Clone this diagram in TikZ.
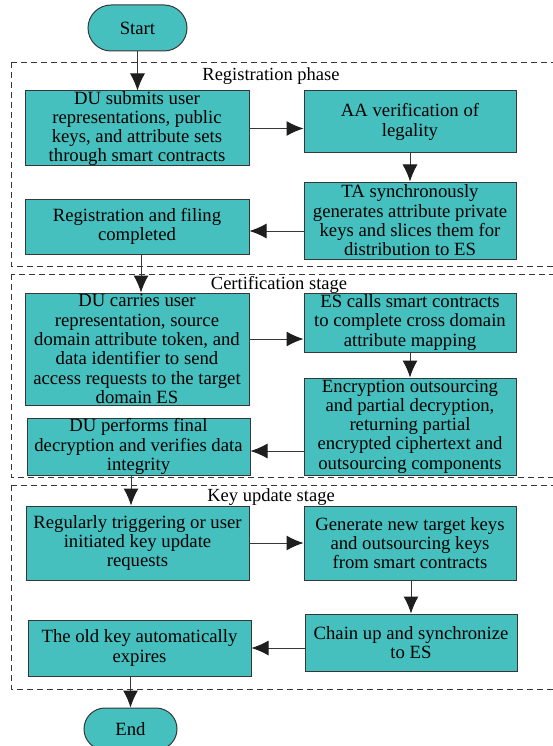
\documentclass[tikz,border=0pt]{standalone}
\usepackage{fontspec}
\setmainfont{Liberation Serif}
\usetikzlibrary{arrows.meta}
\usetikzlibrary{shapes.misc}
\definecolor{flowteal}{RGB}{70,192,190}
\definecolor{edgegray}{RGB}{55,55,55}
\definecolor{tipblack}{RGB}{30,30,30}
\tikzset{every picture/.style={x=1pt,y=-1pt},
 procbox/.style={draw=edgegray,fill=flowteal,line width=1pt,align=center,
   inner sep=0pt,font=\fontsize{18.7}{19.3}\selectfont},
 termbox/.style={procbox,rounded rectangle},
 phase/.style={draw=edgegray,dash pattern=on 6pt off 4pt,line width=0.9pt},
 phasetitle/.style={font=\fontsize{18.5}{19.2}\selectfont,inner sep=0pt},
 flow/.style={draw=edgegray,line width=1pt,
   -{Latex[length=17pt,width=15pt,color=tipblack]}},
 }

\begin{document}
\begin{tikzpicture}
    \useasboundingbox (0,0) rectangle (553,746);
    \draw[phase] (11,62) rectangle (560,266);
    \draw[phase] (11,274) rectangle (560,477);
    \draw[phase] (11,485) rectangle (560,689);
    \node[phasetitle] (regtitle) at (271,76) {Registration phase};
    \node[phasetitle] (certtitle) at (279,285) {Certification stage};
    \node[phasetitle] (keytitle) at (271,497) {Key update stage};

    \node[termbox,minimum width=99,minimum height=46] (start) at (137.5,28) {Start};
    \node[procbox,minimum width=224,minimum height=75] (submit) at (137,128.5)
        {DU submits user\\representations, public\\keys, and attribute sets\\through smart contracts};
    \node[procbox,minimum width=212,minimum height=62] (verify) at (410,122)
        {AA verification of\\legality};
    \node[procbox,minimum width=212,minimum height=77] (slice) at (410,220.5)
        {TA synchronously\\generates attribute private\\keys and slices them for\\distribution to ES};
    \node[procbox,minimum width=224,minimum height=55] (filed) at (137,226.5)
        {Registration and filing\\completed};

    \node[procbox,minimum width=224,minimum height=112] (request) at (137,349)
        {DU carries user\\representation, source\\domain attribute token, and\\data identifier to send\\access requests to the target\\domain ES};
    \node[procbox,minimum width=212,minimum height=59] (mapping) at (410,322.5)
        {ES calls smart contracts\\to complete cross domain\\attribute mapping};
    \node[procbox,minimum width=212,minimum height=97] (outsrc) at (410,426.5)
        {Encryption outsourcing\\and partial decryption,\\returning partial\\encrypted ciphertext and\\outsourcing components};
    \node[procbox,minimum width=223,minimum height=57] (finaldec) at (138.5,446.5)
        {DU performs final\\decryption and verifies data\\integrity};

    \node[procbox,minimum width=223,minimum height=74] (trigger) at (137.5,543)
        {Regularly triggering or user\\initiated key update\\requests};
    \node[procbox,minimum width=212,minimum height=74] (newkeys) at (410,543)
        {Generate new target keys\\and outsourcing keys\\from smart contracts};
    \node[procbox,minimum width=212,minimum height=57] (chain) at (411,642.5)
        {Chain up and synchronize\\to ES};
    \node[procbox,minimum width=223,minimum height=56] (expire) at (139.5,648)
        {The old key automatically\\expires};
    \node[termbox,minimum width=93,minimum height=42] (end) at (130.5,729) {End};

    \coordinate (filedin) at ([yshift=-4.5pt]filed.east);
    \coordinate (filedout) at ([xshift=4pt]filed.south);
    \coordinate (requestout) at ([yshift=10pt]request.east);
    \coordinate (finaldecin) at ([yshift=-4.5pt]finaldec.east);
    \coordinate (finaldecout) at ([xshift=-7.5pt]finaldec.south);

    \draw[flow] (start.south) -- (start.south |- submit.north);
    \draw[flow] (submit.east) -- (submit.east -| verify.west);
    \draw[flow] (verify.south) -- (slice.north);
    \draw[flow] (slice.west |- filedin) -- (filedin);
    \draw[flow] (filedout) -- (filedout |- request.north);
    \draw[flow] (requestout) -- (requestout -| mapping.west);
    \draw[flow] (mapping.south) -- (outsrc.north);
    \draw[flow] (outsrc.west |- finaldecin) -- (finaldecin);
    \draw[flow] (finaldecout) -- (finaldecout |- trigger.north);
    \draw[flow] (trigger.east) -- (trigger.east -| newkeys.west);
    \draw[flow] (chain.north |- newkeys.south) -- (chain.north);
    \draw[flow] (chain.west |- expire.east) -- (expire.east);
    \draw[flow] (end.north |- expire.south) -- (end.north);
\end{tikzpicture}
\end{document}
